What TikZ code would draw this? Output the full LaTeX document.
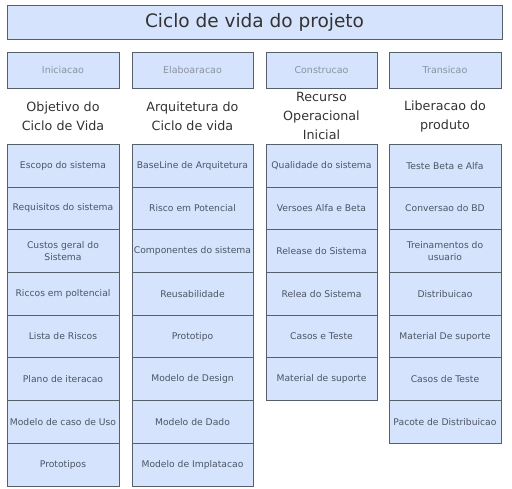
\documentclass[tikz,border=0pt]{standalone}
\usepackage{fontspec}
\setmainfont{DejaVu Sans}
\usepackage{tikz}
\usetikzlibrary{positioning}
\definecolor{boxFill}{HTML}{D6E3FC}
\definecolor{boxLine}{HTML}{56606B}
\definecolor{phaseText}{HTML}{8A93A3}
\definecolor{itemText}{HTML}{4B5563}
\definecolor{headText}{HTML}{333333}

\begin{document}
\begin{tikzpicture}[x=1pt, y=-1pt,
    cbox/.style={rectangle, draw=boxLine, line width=0.8pt, fill=boxFill, inner sep=1pt, align=center},
    titlebox/.style={cbox, minimum width=495pt, minimum height=34pt,
      font=\fontsize{18.5}{22}\selectfont, text=headText},
    phasebox/.style={cbox, minimum height=36pt,
      font=\fontsize{9.5}{11}\selectfont, text=phaseText},
    itembox/.style={cbox, anchor=north, minimum height=42.7pt,
      font=\fontsize{9.2}{12}\selectfont, text=itemText},
    goal/.style={align=center, font=\fontsize{12.7}{19}\selectfont, text=headText}
  ]
  \useasboundingbox (0,0) rectangle (512,489);

  % title
  \node[titlebox] (title) at (254.5,22) {Ciclo de vida do projeto};

  % phases
  \node[phasebox, minimum width=112pt] (inic) at (63,70) {Iniciacao};
  \node[phasebox, minimum width=121pt] (elab) at (192.5,70) {Elaboaracao};
  \node[phasebox, minimum width=111pt] (cons) at (321.5,70) {Construcao};
  \node[phasebox, minimum width=112pt] (tran) at (445,70) {Transicao};

  % milestones
  \node[goal] (goalInic) at (63,116) {Objetivo do\\Ciclo de Vida};
  \node[goal] (goalElab) at (192.5,116) {Arquitetura do\\Ciclo de vida};
  \node[goal] (goalCons) at (321.5,116) {Recurso\\Operacional\\Inicial};
  \node[goal] (goalTran) at (445,116) {Liberacao do\\produto};

  % artefacts, column by column
  \foreach \txt [count=\i] in {Escopo do sistema, Requisitos do sistema,
      Custos geral do\\Sistema, Riccos em poltencial, Lista de Riscos,
      Plano de iteracao, Modelo de caso de Uso, Prototipos}
    \node[itembox, minimum width=112pt] (inic-\i) at (63,{144+(\i-1)*42.7}) {\txt};
  \foreach \txt [count=\i] in {BaseLine de Arquitetura, Risco em Potencial,
      Componentes do sistema, Reusabilidade, Prototipo, Modelo de Design,
      Modelo de Dado, Modelo de Implatacao}
    \node[itembox, minimum width=121pt] (elab-\i) at (192.5,{144+(\i-1)*42.7}) {\txt};
  \foreach \txt [count=\i] in {Qualidade do sistema, Versoes Alfa e Beta,
      Release do Sistema, Relea do Sistema, Casos e Teste, Material de suporte}
    \node[itembox, minimum width=111pt] (cons-\i) at (321.5,{144+(\i-1)*42.7}) {\txt};
  \foreach \txt [count=\i] in {Teste Beta e Alfa, Conversao do BD,
      Treinamentos do\\usuario, Distribuicao, Material De suporte,
      Casos de Teste, Pacote de Distribuicao}
    \node[itembox, minimum width=112pt] (tran-\i) at (445,{144+(\i-1)*42.7}) {\txt};
\end{tikzpicture}
\end{document}
